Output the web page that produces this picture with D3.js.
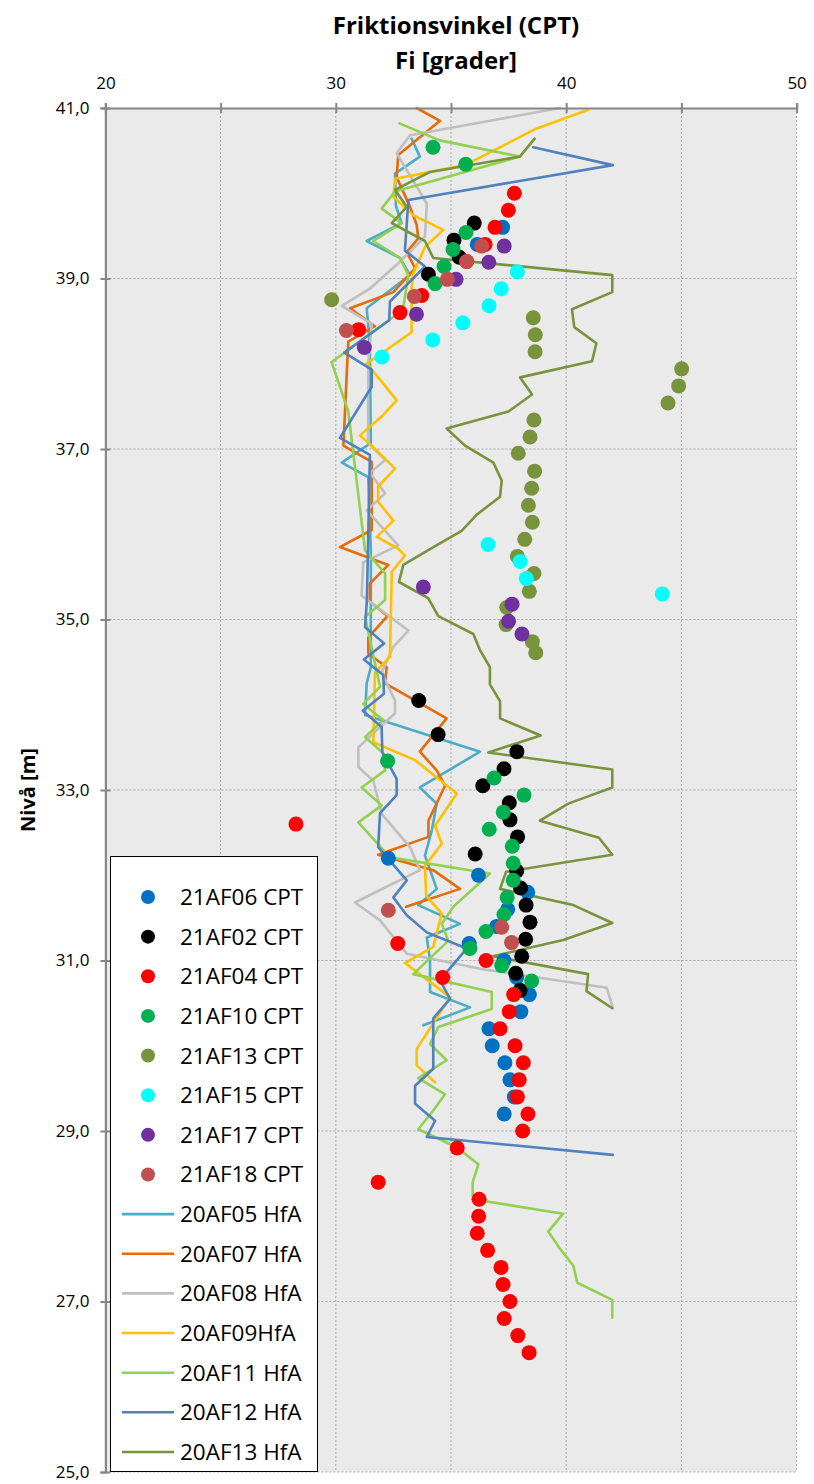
<!DOCTYPE html>
<html>
<head>
<meta charset="utf-8">
<script src="https://cdn.jsdelivr.net/npm/d3@7"></script>
<style>
  body { margin: 0; background: #ffffff; }
  svg { display: block; font-family: "Open Sans", "Noto Sans", sans-serif; }
</style>
</head>
<body>
<svg id="chart" width="814" height="1484"></svg>
<script>
// ---- Axis ticks ----
const xTickValues = [20, 25, 30, 35, 40, 45, 50];
const xTickLabels = [20, 30, 40, 50];
const yTickValues = [41, 39, 37, 35, 33, 31, 29, 27, 25];

// ---- CPT points: [Fi (grader), Nivå (m)] ----
const af06 = [[37.24,39.6],[36.14,39.4],[32.28,32.2],[36.19,32.0],[38.33,31.8],[37.46,31.6],[36.98,31.4],[35.79,31.2],[37.30,31.0],[37.85,30.8],[38.40,30.6],[38.03,30.4],[36.65,30.2],[36.79,30.0],[37.34,29.8],[37.56,29.6],[37.75,29.4],[37.31,29.2]];
const af02 = [[36.01,39.65],[35.13,39.45],[35.36,39.25],[34.02,39.05],[33.60,34.05],[34.44,33.65],[37.86,33.45],[37.30,33.25],[36.38,33.05],[37.53,32.85],[37.56,32.65],[37.89,32.45],[36.05,32.25],[37.85,32.05],[38.02,31.85],[38.26,31.65],[38.43,31.45],[38.24,31.25],[38.07,31.05],[37.81,30.85],[38.00,30.65]];
const af04 = [[37.75,40.0],[37.49,39.8],[36.91,39.6],[36.48,39.4],[35.68,39.2],[33.73,38.8],[32.79,38.6],[30.99,38.4],[28.27,32.6],[32.69,31.2],[36.52,31.0],[34.64,30.8],[37.72,30.6],[37.53,30.4],[37.13,30.2],[37.78,30.0],[38.14,29.8],[37.96,29.6],[37.88,29.4],[38.34,29.2],[38.11,29.0],[35.27,28.8],[31.84,28.4],[36.22,28.2],[36.20,28.0],[36.14,27.8],[36.59,27.6],[37.17,27.4],[37.26,27.2],[37.56,27.0],[37.31,26.8],[37.90,26.6],[38.39,26.4]];
const af10 = [[34.22,40.54],[35.64,40.34],[35.65,39.54],[35.09,39.34],[34.70,39.14],[34.31,38.94],[32.25,33.34],[36.87,33.14],[38.17,32.94],[37.27,32.74],[36.66,32.54],[37.66,32.34],[37.70,32.14],[37.70,31.94],[37.44,31.74],[37.30,31.54],[36.52,31.34],[35.82,31.14],[37.20,30.94],[38.50,30.76]];
const af13 = [[29.82,38.75],[38.57,38.54],[38.66,38.34],[38.65,38.14],[45.01,37.94],[44.88,37.74],[44.42,37.54],[38.60,37.34],[38.43,37.14],[37.92,36.95],[38.63,36.74],[38.50,36.54],[38.36,36.34],[38.53,36.14],[38.20,35.94],[37.88,35.74],[38.60,35.54],[38.40,35.33],[37.42,35.14],[37.39,34.94],[38.53,34.74],[38.68,34.61]];
const af15 = [[37.88,39.08],[37.18,38.88],[36.65,38.68],[35.51,38.48],[34.21,38.28],[32.00,38.08],[36.61,35.88],[38.00,35.68],[38.27,35.48],[44.17,35.30]];
const af17 = [[37.31,39.38],[36.64,39.19],[35.22,38.99],[33.50,38.58],[31.24,38.19],[33.80,35.38],[37.65,35.18],[37.50,34.98],[38.08,34.83]];
const af18 = [[36.33,39.38],[35.68,39.20],[34.84,38.99],[33.41,38.79],[30.46,38.39],[32.28,31.59],[37.20,31.39],[37.63,31.21]];

// ---- HfA profiles: [Fi (grader), Nivå (m)] ----
const hfa05 = [[33.29,40.64],[33.65,40.43],[32.57,40.23],[32.61,39.85],[32.86,39.65],[31.34,39.44],[32.79,39.24],[33.22,39.04],[31.34,38.65],[31.41,38.45],[31.48,38.16],[31.52,37.07],[30.26,36.84],[31.41,36.67],[31.52,35.81],[31.52,34.44],[31.34,34.25],[31.27,33.88],[36.26,33.45],[33.65,33.03],[34.38,32.84],[34.17,32.53],[33.87,32.23],[34.38,31.84],[33.58,31.65],[35.39,31.43],[33.95,31.27],[34.09,31.0],[34.09,30.63],[35.83,30.45],[33.80,30.24]];
const hfa07 = [[33.51,41.0],[34.52,40.85],[33.94,40.72],[32.71,40.45],[32.64,40.19],[33.22,39.84],[33.51,39.63],[33.58,39.47],[33.08,39.31],[33.44,39.12],[32.50,38.84],[30.62,38.65],[31.70,38.44],[30.54,38.26],[30.33,37.04],[31.56,36.85],[31.56,36.05],[30.18,35.85],[32.28,35.64],[31.48,35.42],[31.48,35.21],[32.24,35.04],[31.41,34.79],[31.41,34.60],[32.21,34.44],[32.14,34.25],[34.81,33.84],[33.65,33.45],[34.38,33.23],[34.74,33.05],[34.02,32.64],[34.02,32.45],[31.84,32.24],[34.23,32.06],[35.39,31.84],[33.05,31.63]];
const hfa08 = [[39.73,41.0],[33.22,40.68],[32.64,40.47],[33.95,39.88],[33.87,39.49],[32.79,39.20],[31.48,38.88],[30.26,38.68],[31.56,38.47],[31.41,38.01],[31.40,37.07],[32.14,36.87],[31.48,36.72],[32.14,36.48],[31.34,36.28],[32.71,35.87],[31.19,35.67],[31.12,35.28],[33.15,34.87],[32.50,34.68],[31.99,34.38],[32.57,34.05],[32.57,33.90],[30.98,33.50],[30.98,33.27],[31.63,33.11],[31.99,32.72],[33.22,32.33],[33.65,32.06],[30.83,31.68],[31.92,31.47],[33.08,31.08],[36.32,30.90],[41.76,30.68],[42.02,30.45]];
const hfa09 = [[40.96,40.98],[38.72,40.76],[35.61,40.33],[32.57,40.17],[32.50,39.96],[33.36,39.74],[34.67,39.57],[33.87,39.37],[33.36,39.06],[33.29,38.88],[33.29,38.37],[31.34,38.00],[31.99,37.79],[32.64,37.57],[31.99,37.38],[31.05,37.16],[31.63,37.02],[32.57,36.77],[31.84,36.56],[31.84,36.38],[32.50,36.16],[31.78,35.97],[32.71,35.83],[33.00,35.75],[32.43,35.56],[32.35,34.56],[31.70,34.38],[31.63,33.56],[33.44,33.35],[35.25,32.96],[34.31,32.58],[34.60,32.37],[33.87,32.11],[33.92,31.76],[34.60,31.55],[34.23,31.16],[33.00,30.97],[34.96,30.57],[33.51,29.96],[33.51,29.77],[34.31,29.57]];
const hfa11 = [[32.76,40.82],[34.52,40.62],[37.99,40.43],[32.57,40.02],[31.99,39.82],[32.86,39.65],[31.63,39.44],[32.79,39.24],[33.15,39.04],[32.91,38.63],[29.82,38.02],[30.54,37.44],[31.27,35.81],[32.14,35.54],[32.14,35.23],[31.27,35.03],[31.92,34.21],[31.19,34.01],[32.06,33.82],[31.27,33.62],[32.06,33.43],[32.14,33.23],[31.12,33.03],[31.99,32.82],[30.98,32.62],[32.35,32.21],[36.69,32.02],[35.10,31.63],[34.60,31.43],[34.88,31.23],[33.36,30.84],[36.77,30.63],[36.77,30.43],[34.45,30.22],[34.09,30.02],[34.81,29.83],[33.58,29.62],[34.74,29.43],[34.23,29.24],[33.58,29.02],[35.25,28.81],[36.19,28.61],[35.94,28.40],[35.94,28.20],[39.87,28.03],[39.22,27.82],[39.73,27.62],[40.31,27.42],[40.48,27.22],[42.00,27.02],[42.00,26.81]];
const hfa12 = [[38.57,40.54],[42.02,40.33],[33.15,39.92],[33.00,39.33],[33.87,39.14],[32.35,38.73],[32.32,38.51],[31.34,38.32],[30.37,38.13],[31.56,37.93],[31.56,37.73],[30.18,37.13],[31.48,36.93],[31.44,36.40],[31.35,35.23],[31.27,34.91],[32.10,34.72],[31.22,34.53],[32.06,34.35],[32.09,34.13],[31.17,33.93],[31.99,33.74],[32.02,33.44],[32.64,33.13],[32.64,32.94],[31.92,32.73],[31.84,32.33],[33.08,31.94],[32.50,31.74],[33.08,31.53],[33.95,31.33],[35.68,31.14],[34.52,30.77],[34.96,30.55],[34.23,30.32],[34.23,29.73],[33.44,29.53],[33.44,29.32],[34.31,29.12],[33.95,28.93],[42.02,28.72]];
const hfa13 = [[38.63,40.64],[37.99,40.43],[34.09,40.25],[32.57,40.04],[33.08,39.84],[32.43,39.65],[33.87,39.44],[34.23,39.24],[42.00,39.04],[42.00,38.84],[40.25,38.64],[40.35,38.43],[41.31,38.24],[41.12,38.03],[38.00,37.84],[38.52,37.64],[37.49,37.44],[34.81,37.24],[35.61,37.04],[36.84,36.84],[37.20,36.63],[37.13,36.44],[36.12,36.23],[35.46,36.04],[34.18,35.84],[32.93,35.64],[32.74,35.44],[34.01,35.25],[34.45,35.04],[35.97,34.83],[36.26,34.64],[36.69,34.44],[36.69,34.24],[37.13,34.04],[37.13,33.84],[38.89,33.64],[36.62,33.44],[42.00,33.24],[42.00,33.03],[40.09,32.84],[38.86,32.64],[41.42,32.44],[42.00,32.24],[37.39,32.04],[37.13,31.84],[40.31,31.65],[42.00,31.44],[39.87,31.24],[36.82,31.05],[40.95,30.84],[40.88,30.64],[42.00,30.44]];

const pointSeries = [
  { name: "21AF06 CPT", color: "#0070c0", data: af06 },
  { name: "21AF02 CPT", color: "#000000", data: af02 },
  { name: "21AF04 CPT", color: "#ff0000", data: af04 },
  { name: "21AF10 CPT", color: "#00b050", data: af10 },
  { name: "21AF13 CPT", color: "#77933c", data: af13 },
  { name: "21AF15 CPT", color: "#00ffff", data: af15 },
  { name: "21AF17 CPT", color: "#7030a0", data: af17 },
  { name: "21AF18 CPT", color: "#c0504d", data: af18 }
];
const lineSeries = [
  { name: "20AF05 HfA", color: "#4bacc6", data: hfa05 },
  { name: "20AF07 HfA", color: "#e46c0a", data: hfa07 },
  { name: "20AF08 HfA", color: "#bfbfbf", data: hfa08 },
  { name: "20AF09HfA",  color: "#ffc000", data: hfa09 },
  { name: "20AF11 HfA", color: "#92d050", data: hfa11 },
  { name: "20AF12 HfA", color: "#4f81bd", data: hfa12 },
  { name: "20AF13 HfA", color: "#77933c", data: hfa13 }
];

// ---- Layout ----
const svg = d3.select("#chart");
const plot = { left: 105.4, right: 796.6, top: 108, bottom: 1472 };
const x = d3.scaleLinear().domain([20, 50]).range([plot.left, plot.right]);
const y = d3.scaleLinear().domain([25, 41]).range([plot.bottom, plot.top]);

// plot background
svg.append("rect")
  .attr("x", plot.left).attr("y", plot.top)
  .attr("width", plot.right - plot.left).attr("height", plot.bottom - plot.top)
  .attr("fill", "#eaeaea");

// dotted gridlines
const grid = svg.append("g").attr("stroke", "#a6a6a6").attr("stroke-width", 1).attr("stroke-dasharray", "2,2");
grid.selectAll("line.v").data(xTickValues.slice(1)).join("line")
  .attr("x1", d => x(d)).attr("x2", d => x(d))
  .attr("y1", plot.top).attr("y2", plot.bottom);
grid.selectAll("line.h").data(yTickValues.slice(1)).join("line")
  .attr("y1", d => y(d)).attr("y2", d => y(d))
  .attr("x1", plot.left).attr("x2", plot.right);

// HfA lines
const line = d3.line().x(d => x(d[0])).y(d => y(d[1]));
svg.append("g").selectAll("path").data(lineSeries).join("path")
  .attr("d", s => line(s.data))
  .attr("fill", "none")
  .attr("stroke", s => s.color)
  .attr("stroke-width", 2.6)
  .attr("stroke-linejoin", "round")
  .attr("stroke-linecap", "round");

// CPT points
const pts = svg.append("g");
pointSeries.forEach(s => {
  pts.append("g").selectAll("circle").data(s.data).join("circle")
    .attr("cx", d => x(d[0])).attr("cy", d => y(d[1]))
    .attr("r", 7.5).attr("fill", s.color);
});

// top axis
const xAxis = d3.axisTop(x).tickValues(xTickValues)
  .tickFormat(d => xTickLabels.includes(d) ? d : "")
  .tickSize(5).tickPadding(14);
const gx = svg.append("g").attr("transform", `translate(0,${plot.top})`).call(xAxis);
gx.select(".domain").attr("stroke", "#868686").attr("stroke-width", 2.2);
gx.selectAll(".tick line").attr("stroke", "#868686").attr("stroke-width", 2).attr("y1", 5).attr("y2", -5);
gx.selectAll(".tick text").attr("font-size", 17).attr("fill", "#000").attr("font-family", "Open Sans");

// left axis
const yAxis = d3.axisLeft(y).tickValues(yTickValues)
  .tickFormat(d => d.toFixed(1).replace(".", ","))
  .tickSize(5).tickPadding(11);
const gy = svg.append("g").attr("transform", `translate(${plot.left},0)`).call(yAxis);
gy.select(".domain").attr("stroke", "#868686").attr("stroke-width", 2.2);
gy.selectAll(".tick line").attr("stroke", "#868686").attr("stroke-width", 2).attr("x1", 5).attr("x2", -5);
gy.selectAll(".tick text").attr("font-size", 17).attr("fill", "#000").attr("font-family", "Open Sans");

// titles
svg.append("text").attr("x", 456).attr("y", 34).attr("text-anchor", "middle")
  .attr("font-size", 24).attr("font-weight", "bold").text("Friktionsvinkel (CPT)");
svg.append("text").attr("x", 456).attr("y", 69).attr("text-anchor", "middle")
  .attr("font-size", 24).attr("font-weight", "bold").text("Fi [grader]");
svg.append("text").attr("transform", "translate(35,790) rotate(-90)").attr("text-anchor", "middle")
  .attr("font-size", 20).attr("font-weight", "bold").text("Nivå [m]");

// legend
const legendItems = pointSeries.map(s => ({ ...s, kind: "point" }))
  .concat(lineSeries.map(s => ({ ...s, kind: "line" })));
const lg = svg.append("g");
lg.append("rect").attr("x", 110.5).attr("y", 856.5).attr("width", 207).attr("height", 615)
  .attr("fill", "#ffffff").attr("stroke", "#000").attr("stroke-width", 1);
const rowH = 39.64;
const rows = lg.selectAll("g.row").data(legendItems).join("g")
  .attr("transform", (d, i) => `translate(0,${897 + i * rowH})`);
rows.filter(d => d.kind === "point").append("circle")
  .attr("cx", 148).attr("cy", 0).attr("r", 7).attr("fill", d => d.color);
rows.filter(d => d.kind === "line").append("line")
  .attr("x1", 122).attr("x2", 174).attr("y1", 0).attr("y2", 0)
  .attr("stroke", d => d.color).attr("stroke-width", 2.6);
rows.append("text").attr("x", 180).attr("y", 8)
  .attr("font-size", 22.5).attr("fill", "#000").text(d => d.name);
</script>
</body>
</html>
